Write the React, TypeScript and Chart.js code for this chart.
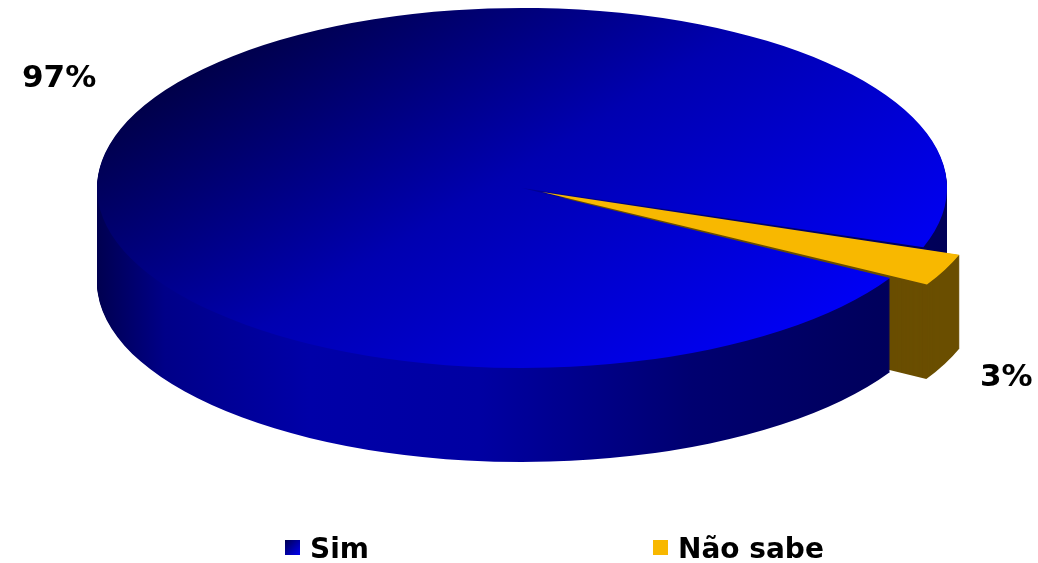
import React, { useEffect, useRef } from 'react';
import { Chart, registerables } from 'chart.js';

Chart.register(...registerables);

const categories: string[] = ['Sim', 'Não sabe'];
const values: number[] = [97, 3];
const topColors: string[] = ['#0000e8', '#f8b800'];
const sideColors: string[] = ['#00008a', '#6a4e00'];
const explodeOffsets: number[] = [0, 88];

const TILT = 180 / 425;
const DEPTH = 94;
const LABEL_FONT = 'bold 31px "DejaVu Sans", Verdana, sans-serif';
const LEGEND_FONT = 'bold 28px "DejaVu Sans", Verdana, sans-serif';

function arcPath(ctx: CanvasRenderingContext2D, el: any) {
  const p = el.getProps(['x', 'y', 'startAngle', 'endAngle', 'outerRadius'], true);
  const circ = p.endAngle - p.startAngle;
  const off = (el.options.offset || 0) / 4;
  const fix = 1 - Math.sin(Math.min(Math.PI, circ));
  const mid = (p.startAngle + p.endAngle) / 2;
  const d = off * (1 + fix);
  const ox = p.x + Math.cos(mid) * d;
  const oy = p.y + Math.sin(mid) * d;
  ctx.beginPath();
  ctx.moveTo(ox, oy);
  ctx.arc(ox, oy, p.outerRadius, p.startAngle, p.endAngle);
  ctx.closePath();
}

let saved = false;

const pie3d = {
  id: 'pie3d',
  beforeDatasetsDraw(chart: any) {
    const ctx: CanvasRenderingContext2D = chart.ctx;
    const meta = chart.getDatasetMeta(0);
    const arcs = meta.data;
    saved = false;
    if (!arcs.length) return;
    const cx = arcs[0].x;
    const cy = arcs[0].y;
    const r = arcs[0].outerRadius;
    const sideGrad = ctx.createLinearGradient(cx - r, 0, cx + r, 0);
    sideGrad.addColorStop(0, '#000050');
    sideGrad.addColorStop(0.08, '#000088');
    sideGrad.addColorStop(0.25, '#0000a8');
    sideGrad.addColorStop(0.45, '#0000a2');
    sideGrad.addColorStop(0.7, '#000070');
    sideGrad.addColorStop(0.9, '#00005e');
    sideGrad.addColorStop(1, '#000058');
    for (let d = DEPTH; d >= 1; d--) {
      ctx.save();
      ctx.translate(0, d);
      ctx.translate(cx, cy);
      ctx.scale(1, TILT);
      ctx.translate(-cx, -cy);
      arcs.forEach((el: any, i: number) => {
        arcPath(ctx, el);
        ctx.fillStyle = i === 0 ? sideGrad : sideColors[i];
        ctx.fill();
      });
      ctx.restore();
    }
    ctx.save();
    ctx.translate(cx, cy);
    ctx.scale(1, TILT);
    ctx.translate(-cx, -cy);
    saved = true;
  },
  afterDatasetsDraw(chart: any) {
    if (saved) chart.ctx.restore();
    saved = false;
  },
  afterDraw(chart: any) {
    const ctx: CanvasRenderingContext2D = chart.ctx;
    const data: number[] = chart.data.datasets[0].data;
    const total = data.reduce((a, b) => a + b, 0);
    const labelPos = [
      { x: 22, y: 87 },
      { x: 980, y: 386 },
    ];
    ctx.save();
    ctx.font = LABEL_FONT;
    ctx.fillStyle = '#000000';
    ctx.textAlign = 'left';
    ctx.textBaseline = 'alphabetic';
    data.forEach((v, i) => {
      ctx.fillText(Math.round((v / total) * 100) + '%', labelPos[i].x, labelPos[i].y);
    });
    // legend
    ctx.font = LEGEND_FONT;
    const legendX = [285, 653];
    const labels: string[] = chart.data.labels;
    labels.forEach((lab, i) => {
      const x = legendX[i];
      const y = 540;
      if (i === 0) {
        const g = ctx.createLinearGradient(x, y, x + 15, y + 15);
        g.addColorStop(0, '#000050');
        g.addColorStop(1, '#0000f0');
        ctx.fillStyle = g;
      } else {
        ctx.fillStyle = topColors[i];
      }
      ctx.fillRect(x, y, 15, 15);
      ctx.fillStyle = '#000000';
      ctx.fillText(lab, x + 25, 558);
    });
    ctx.restore();
  },
};

export default function App() {
  const ref = useRef<HTMLCanvasElement | null>(null);
  useEffect(() => {
    if (!ref.current) return;
    const chart = new Chart(ref.current, {
      type: 'pie',
      data: {
        labels: categories,
        datasets: [
          {
            data: values,
            backgroundColor: (c: any) => {
              const ch = c.chart;
              const area = ch.chartArea;
              if (c.dataIndex !== 0) return topColors[c.dataIndex];
              if (!area) return topColors[0];
              const cx = (area.left + area.right) / 2;
              const cy = (area.top + area.bottom) / 2;
              const r = 425;
              const g = ch.ctx.createLinearGradient(cx - 0.85 * r, cy - 0.75 * r, cx + 0.9 * r, cy + 0.45 * r);
              g.addColorStop(0, '#00003c');
              g.addColorStop(0.5, '#0000b0');
              g.addColorStop(1, '#0000f4');
              return g;
            },
            borderWidth: 0,
            offset: explodeOffsets,
            clip: false,
          } as any,
        ],
      },
      options: {
        animation: false,
        responsive: true,
        maintainAspectRatio: false,
        radius: 425,
        rotation: 120,
        layout: { padding: { left: 6, right: 0, top: 0, bottom: 187 } },
        plugins: {
          legend: { display: false },
          tooltip: { enabled: false },
        },
        events: [],
      } as any,
      plugins: [pie3d],
    });
    return () => chart.destroy();
  }, []);
  return (
    <div style={{ position: 'fixed', left: 0, top: 0, width: 1038, height: 563, background: '#ffffff' }}>
      <canvas ref={ref} />
    </div>
  );
}
